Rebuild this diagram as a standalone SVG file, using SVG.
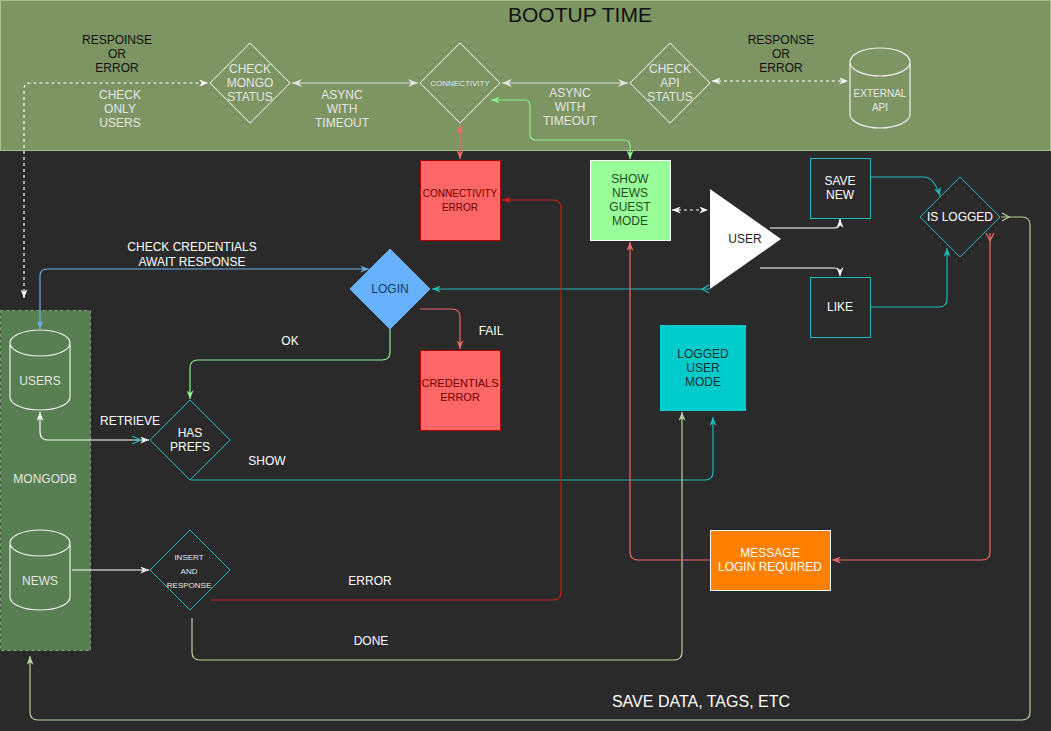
<svg xmlns="http://www.w3.org/2000/svg" width="1051" height="731" viewBox="0 0 1051 731">
<style>
text{font-family:"Liberation Sans",Arial,sans-serif;font-size:12px;text-anchor:middle;dominant-baseline:central}
.lt{fill:#e6e6e6}
.wt{fill:#ffffff}
.dk{fill:#111111}
.dia{fill:none;stroke:#ffffff;stroke-width:1}
.tdia{fill:none;stroke:#20b8b8;stroke-width:1}
.cyl{fill:none;stroke:#f0f0f0;stroke-width:1.2}
.c{fill:none;stroke-width:1.2}
</style>
<defs>
<marker id="aW" viewBox="0 0 10 8" refX="10" refY="4" markerWidth="9" markerHeight="7" markerUnits="userSpaceOnUse" orient="auto-start-reverse"><path d="M0,0 L10,4 L0,8 L3,4z" fill="#ffffff"/></marker>
<marker id="aL" viewBox="0 0 10 8" refX="10" refY="4" markerWidth="10" markerHeight="8" markerUnits="userSpaceOnUse" orient="auto-start-reverse"><path d="M0,0 L10,4 L0,8 L3,4z" fill="#e2e2e2"/></marker>
<marker id="aG" viewBox="0 0 10 8" refX="10" refY="4" markerWidth="9" markerHeight="7" markerUnits="userSpaceOnUse" orient="auto-start-reverse"><path d="M0,0 L10,4 L0,8 L3,4z" fill="#8ef08e"/></marker>
<marker id="aR" viewBox="0 0 10 8" refX="10" refY="4" markerWidth="9" markerHeight="7" markerUnits="userSpaceOnUse" orient="auto-start-reverse"><path d="M0,0 L10,4 L0,8 L3,4z" fill="#ea6b66"/></marker>
<marker id="aD" viewBox="0 0 10 8" refX="10" refY="4" markerWidth="9" markerHeight="7" markerUnits="userSpaceOnUse" orient="auto-start-reverse"><path d="M0,0 L10,4 L0,8 L3,4z" fill="#cc1a1a"/></marker>
<marker id="aB" viewBox="0 0 10 8" refX="10" refY="4" markerWidth="9" markerHeight="7" markerUnits="userSpaceOnUse" orient="auto-start-reverse"><path d="M0,0 L10,4 L0,8 L3,4z" fill="#6aaee8"/></marker>
<marker id="aT" viewBox="0 0 10 8" refX="10" refY="4" markerWidth="9" markerHeight="7" markerUnits="userSpaceOnUse" orient="auto-start-reverse"><path d="M0,0 L10,4 L0,8 L3,4z" fill="#20b8b8"/></marker>
<marker id="aS" viewBox="0 0 10 8" refX="10" refY="4" markerWidth="9" markerHeight="7" markerUnits="userSpaceOnUse" orient="auto-start-reverse"><path d="M0,0 L10,4 L0,8 L3,4z" fill="#b9d3a0"/></marker>
</defs>

<rect x="0" y="0" width="1051" height="731" fill="#2a2a2a"/>

<g id="bootup-band">
<rect x="0.5" y="0.5" width="1050" height="150" fill="#7c9563" stroke="#a2c28a" stroke-width="1"/>
<text x="580" y="14" class="dk" style="font-size:21px">BOOTUP TIME</text>
</g>

<g id="mongodb">
<rect x="0.5" y="310.5" width="90" height="340" fill="#587f52" stroke="#8a9a88" stroke-dasharray="3,3"/>
<text x="45" y="479" class="lt">MONGODB</text>
</g>

<g id="connectors">
<!-- top band -->
<path class="c" d="M24,298 L24,89 Q24,83 30,83 L208,83" stroke="#ffffff" stroke-dasharray="3,3" marker-start="url(#aW)" marker-end="url(#aW)"/>
<path class="c" d="M292,83 L418,83" stroke="#e2e2e2" stroke-width="2" marker-start="url(#aL)" marker-end="url(#aL)"/>
<path class="c" d="M502,83 L628,83" stroke="#e2e2e2" stroke-width="2" marker-start="url(#aL)" marker-end="url(#aL)"/>
<path class="c" d="M712,81 L848,81" stroke="#ffffff" stroke-dasharray="3,3" marker-start="url(#aW)" marker-end="url(#aW)"/>
<path class="c" d="M630,159 L630,146 Q630,140 624,140 L536,140 Q530,140 530,134 L530,106 Q530,100 524,100 L491,100" stroke="#8ef08e" marker-start="url(#aG)" marker-end="url(#aG)"/>
<path class="c" d="M460,125 L460,159" stroke="#ea6b66" marker-start="url(#aR)" marker-end="url(#aR)"/>
<!-- login area -->
<path class="c" d="M40,329 L40,276 Q40,269 47,269 L369,269" stroke="#6aaee8" marker-start="url(#aB)" marker-end="url(#aB)"/>
<path class="c" d="M710,289 L432,289" stroke="#20b8b8" marker-end="url(#aT)"/>
<polyline class="c" points="709,285 702,289 709,293" stroke="#20b8b8"/>
<path class="c" d="M420,309 L452,309 Q460,309 460,317 L460,349" stroke="#ea6b66" marker-end="url(#aR)"/>
<path class="c" d="M390,329 L390,352 Q390,360 382,360 L198,360 Q190,360 190,368 L190,399" stroke="#8ef08e" marker-end="url(#aG)"/>
<!-- users / has prefs -->
<path class="c" d="M40,412 L40,432 Q40,440 48,440 L149,440" stroke="#ffffff" marker-start="url(#aW)" marker-end="url(#aW)"/>
<polyline class="c" points="132,436 141,440 132,444" stroke="#20b8b8"/>
<path class="c" d="M190,480 L705,480 Q713,480 713,472 L713,417" stroke="#20b8b8" marker-end="url(#aT)"/>
<!-- news / insert -->
<path class="c" d="M72,570 L149,570" stroke="#ffffff" marker-end="url(#aW)"/>
<path class="c" d="M211,600 L553,600 Q561,600 561,592 L561,208 Q561,200 553,200 L502,200" stroke="#cc1a1a" marker-end="url(#aD)"/>
<path class="c" d="M192,618 L192,652 Q192,660 200,660 L674,660 Q682,660 682,652 L682,412" stroke="#b9d3a0" marker-end="url(#aS)"/>
<!-- user area -->
<path class="c" d="M672,210 L708,210" stroke="#ffffff" stroke-dasharray="3,3" marker-start="url(#aW)" marker-end="url(#aW)"/>
<path class="c" d="M770,228 L834,228 Q840,228 840,222 L840,219" stroke="#ffffff" marker-end="url(#aW)"/>
<path class="c" d="M760,268 L834,268 Q840,268 840,274 L840,276" stroke="#ffffff" marker-end="url(#aW)"/>
<path class="c" d="M871,177 L924,177 Q934,177 940,196" stroke="#20b8b8" marker-end="url(#aT)"/>
<path class="c" d="M871,307 L939,307 Q947,307 947,299 L947,248" stroke="#20b8b8" marker-end="url(#aT)"/>
<path class="c" d="M990,233 L990,552 Q990,560 982,560 L832,560" stroke="#ea6b66" marker-end="url(#aR)"/>
<polyline class="c" points="986,233 990,241 994,233" stroke="#ea6b66"/>
<path class="c" d="M710,560 L638,560 Q630,560 630,552 L630,242" stroke="#ea6b66" marker-end="url(#aR)"/>
<path class="c" d="M1001,217 L1022,217 Q1030,217 1030,225 L1030,712 Q1030,720 1022,720 L38,720 Q30,720 30,712 L30,656" stroke="#b9d3a0" marker-end="url(#aS)"/>
<polyline class="c" points="1002,213 1009,217 1002,221" stroke="#b9d3a0"/>
</g>

<g id="labels">
<text x="117" y="40" class="dk">RESPOINSE</text>
<text x="117" y="54" class="dk">OR</text>
<text x="117" y="68" class="dk">ERROR</text>
<text x="120" y="95" class="lt">CHECK</text>
<text x="120" y="109" class="lt">ONLY</text>
<text x="120" y="123" class="lt">USERS</text>
<text x="342" y="95" class="lt">ASYNC</text>
<text x="342" y="109" class="lt">WITH</text>
<text x="342" y="123" class="lt">TIMEOUT</text>
<text x="570" y="93" class="lt">ASYNC</text>
<text x="570" y="107" class="lt">WITH</text>
<text x="570" y="121" class="lt">TIMEOUT</text>
<text x="781" y="40" class="dk">RESPONSE</text>
<text x="781" y="54" class="dk">OR</text>
<text x="781" y="68" class="dk">ERROR</text>
<text x="192" y="247" class="wt">CHECK CREDENTIALS</text>
<text x="192" y="262" class="wt">AWAIT RESPONSE</text>
<text x="290" y="341" class="wt">OK</text>
<text x="491" y="331" class="wt">FAIL</text>
<text x="130" y="421" class="wt">RETRIEVE</text>
<text x="267" y="461" class="wt">SHOW</text>
<text x="370" y="581" class="wt">ERROR</text>
<text x="371" y="641" class="wt">DONE</text>
<text x="701" y="701" class="wt" style="font-size:16px">SAVE DATA, TAGS, ETC</text>
</g>

<g id="check-mongo-status">
<polygon class="dia" points="250,43 290,83 250,123 210,83"/>
<text x="250" y="69" class="lt">CHECK</text>
<text x="250" y="83" class="lt">MONGO</text>
<text x="250" y="97" class="lt">STATUS</text>
</g>

<g id="connectivity">
<polygon class="dia" points="460,43 500,83 460,123 420,83"/>
<text x="460" y="83" class="lt" style="font-size:8px">CONNECTIVITY</text>
</g>

<g id="check-api-status">
<polygon class="dia" points="670,43 710,83 670,123 630,83"/>
<text x="670" y="69" class="lt">CHECK</text>
<text x="670" y="83" class="lt">API</text>
<text x="670" y="97" class="lt">STATUS</text>
</g>

<g id="external-api">
<path class="cyl" d="M850,62 A30,14 0 0 1 910,62 L910,114 A30,14 0 0 1 850,114 Z M850,62 A30,14 0 0 0 910,62"/>
<text x="880" y="93" class="lt" style="font-size:10px">EXTERNAL</text>
<text x="880" y="107" class="lt" style="font-size:10px">API</text>
</g>

<g id="connectivity-error">
<rect x="420.5" y="160.5" width="80" height="80" fill="#ff6666" stroke="#b20000"/>
<text x="460" y="193" style="font-size:10px;fill:#6b0000">CONNECTIVITY</text>
<text x="460" y="207" style="font-size:10px;fill:#6b0000">ERROR</text>
</g>

<g id="show-news-guest-mode">
<rect x="590.5" y="160.5" width="80" height="80" fill="#99ff99" stroke="#ffffff"/>
<text x="630" y="179" style="fill:#1f4d1f">SHOW</text>
<text x="630" y="193" style="fill:#1f4d1f">NEWS</text>
<text x="630" y="207" style="fill:#1f4d1f">GUEST</text>
<text x="630" y="221" style="fill:#1f4d1f">MODE</text>
</g>

<g id="user">
<polygon points="710,189 781,239 710,289" fill="#ffffff"/>
<text x="745" y="239" style="fill:#222222">USER</text>
</g>

<g id="save-new">
<rect x="810.5" y="158.5" width="60" height="60" fill="none" stroke="#20b8b8"/>
<text x="840" y="181" class="wt">SAVE</text>
<text x="840" y="195" class="wt">NEW</text>
</g>

<g id="like">
<rect x="810.5" y="277.5" width="60" height="60" fill="none" stroke="#20b8b8"/>
<text x="840" y="307" class="wt">LIKE</text>
</g>

<g id="is-logged">
<polygon class="tdia" points="960,177 1000,217 960,257 920,217"/>
<text x="960" y="217" class="wt">IS LOGGED</text>
</g>

<g id="login">
<polygon points="390,249 430,289 390,329 350,289" fill="#66b2ff" stroke="#66b2ff"/>
<text x="390" y="289" style="fill:#123a66">LOGIN</text>
</g>

<g id="credentials-error">
<rect x="420.5" y="350.5" width="80" height="80" fill="#ff6666" stroke="#b20000"/>
<text x="460" y="383" style="font-size:11px;fill:#6b0000">CREDENTIALS</text>
<text x="460" y="397" style="font-size:11px;fill:#6b0000">ERROR</text>
</g>

<g id="logged-user-mode">
<rect x="660" y="325" width="86" height="86" fill="#00cccc"/>
<text x="703" y="354" style="fill:#10302f">LOGGED</text>
<text x="703" y="368" style="fill:#10302f">USER</text>
<text x="703" y="382" style="fill:#10302f">MODE</text>
</g>

<g id="users">
<path class="cyl" d="M10,343 A30,13 0 0 1 70,343 L70,397 A30,13 0 0 1 10,397 Z M10,343 A30,13 0 0 0 70,343"/>
<text x="40" y="381" class="lt">USERS</text>
</g>

<g id="news">
<path class="cyl" d="M10,543 A30,13 0 0 1 70,543 L70,597 A30,13 0 0 1 10,597 Z M10,543 A30,13 0 0 0 70,543"/>
<text x="40" y="581" class="lt">NEWS</text>
</g>

<g id="has-prefs">
<polygon class="tdia" points="190,400 230,440 190,480 150,440"/>
<text x="190" y="433" class="wt">HAS</text>
<text x="190" y="447" class="wt">PREFS</text>
</g>

<g id="insert-and-response">
<polygon class="tdia" points="190,530 230,570 190,610 150,570"/>
<text x="189" y="557" class="lt" style="font-size:8px">INSERT</text>
<text x="189" y="571" class="lt" style="font-size:8px">AND</text>
<text x="189" y="585" class="lt" style="font-size:8px">RESPONSE</text>
</g>

<g id="message-login-required">
<rect x="710.5" y="530.5" width="120" height="60" fill="#ff8000" stroke="#ffffff"/>
<text x="770" y="553" class="wt">MESSAGE</text>
<text x="770" y="567" class="wt">LOGIN REQUIRED</text>
</g>
</svg>
